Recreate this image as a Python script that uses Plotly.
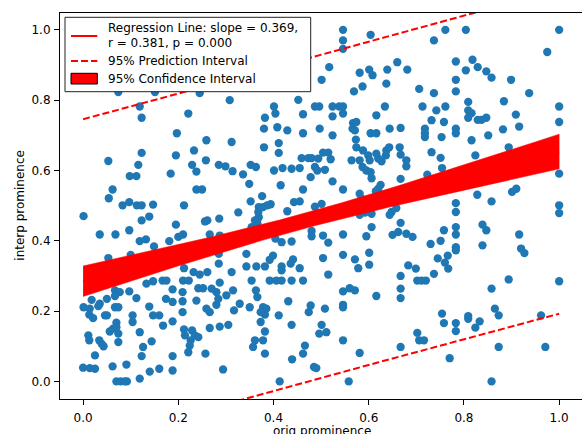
import numpy as np
import plotly.graph_objects as go

# ---- observations -----------------------------------------------------------
orig_prominence = [
    # upper-left
    0.074, 0.151, 0.119, 0.123, 0.197, 0.221, 0.245, 0.308, 0.401, 0.452,
    0.404, 0.382, 0.462, 0.487, 0.380, 0.408, 0.429, 0.462, 0.259, 0.312,
    # upper-middle
    0.546, 0.604, 0.546, 0.546, 0.737, 0.517, 0.501, 0.581, 0.601, 0.608,
    0.639, 0.660, 0.681, 0.637, 0.587, 0.569, 0.706, 0.737, 0.496, 0.524,
    0.538, 0.546, 0.524, 0.546, 0.634, 0.616, 0.713, 0.742, 0.732, 0.497,
    0.524, 0.567, 0.574, 0.566, 0.571, 0.573, 0.604, 0.616, 0.644, 0.667,
    0.718, 0.718, 0.718,
    # upper-right
    0.761, 0.804, 1.000, 0.975, 0.783, 0.818, 0.804, 0.829, 0.847, 0.858,
    0.899, 0.783, 0.783, 0.937, 0.809, 0.884, 0.761, 0.809, 0.816, 0.809,
    0.829, 0.837, 0.847, 0.909, 1.000, 1.000, 0.916, 0.758, 0.783, 0.783,
    0.882, 0.851, 0.753, 0.816,
    # mid-left
    0.053, 0.123, 0.116, 0.195, 0.184, 0.098, 0.112, 0.062, 0.054, 0.083,
    0.097, 0.113, 0.123, 0.147, 0.212, 0.001, 0.139, 0.123, 0.195, 0.035,
    0.068, 0.097, 0.119, 0.132, 0.149, 0.181, 0.200, 0.210, 0.053, 0.100,
    # mid-centre
    0.411, 0.411, 0.380, 0.233, 0.258, 0.229, 0.238, 0.285, 0.299, 0.314,
    0.352, 0.363, 0.336, 0.401, 0.419, 0.438, 0.455, 0.459, 0.473, 0.480,
    0.478, 0.349, 0.415, 0.238, 0.250, 0.462, 0.376, 0.352, 0.326, 0.369,
    0.378, 0.387, 0.394, 0.368, 0.369, 0.429, 0.443, 0.455, 0.487, 0.256,
    0.261, 0.286, 0.361, 0.366, 0.266, 0.287, 0.354, 0.417, 0.438, 0.404,
    0.480, 0.480, 0.343, 0.285, 0.285, 0.399, 0.392, 0.441, 0.436, 0.455,
    0.343, 0.364, 0.382, 0.417,
    # lower-centre
    0.232, 0.245, 0.261, 0.287, 0.312, 0.417, 0.417, 0.438, 0.462, 0.392,
    0.406, 0.354, 0.242, 0.252, 0.270, 0.280, 0.315, 0.301, 0.284, 0.280,
    0.238, 0.363, 0.366, 0.378, 0.385, 0.382, 0.373, 0.350, 0.317, 0.329,
    0.259, 0.266, 0.431, 0.474, 0.478, 0.411, 0.266, 0.287, 0.305, 0.229,
    0.235, 0.242, 0.226, 0.224, 0.221, 0.214, 0.373, 0.382, 0.438, 0.361,
    0.378, 0.357, 0.382, 0.257, 0.466, 0.462, 0.439, 0.294, 0.413, 0.485,
    # mid-right
    0.574, 0.588, 0.599, 0.602, 0.616, 0.620, 0.627, 0.637, 0.643, 0.636,
    0.665, 0.667, 0.679, 0.679, 0.732, 0.494, 0.504, 0.515, 0.520, 0.487,
    0.492, 0.508, 0.564, 0.581, 0.587, 0.595, 0.604, 0.606, 0.625, 0.620,
    0.615, 0.667, 0.723, 0.524, 0.546, 0.581, 0.585, 0.501, 0.581, 0.592,
    0.606, 0.648, 0.658, 0.644, 0.667, 0.606, 0.650, 0.662, 0.679, 0.692,
    0.546, 0.595, 0.504, 0.515, 0.730, 0.751, 0.546, 0.601, 0.504, 0.571,
    0.601, 0.683, 0.699, 0.578, 0.745,
    # lower-right (a)
    0.515, 0.667, 0.667, 0.667, 0.702, 0.711, 0.720, 0.737, 0.546, 0.560,
    0.571, 0.616, 0.546, 0.546, 0.508, 0.501, 0.496, 0.511, 0.702, 0.706,
    0.716, 0.546, 0.667, 0.581, 0.490, 0.558,
    # lower-right (b)
    0.767, 0.894, 1.000, 0.858, 0.754, 0.758, 0.783, 0.783, 0.809, 0.809,
    0.824, 0.833, 0.865, 0.873, 0.962, 0.873, 0.971, 0.770, 0.858,
    # far right, middle band
    0.894, 0.824, 0.751, 0.754, 1.000, 0.901, 0.910, 0.828, 0.858, 0.783,
    0.783, 1.000, 1.000, 0.783, 0.783, 0.758, 0.839, 0.847, 0.916, 0.783,
    0.783, 0.839, 0.920, 0.927, 0.766, 0.760,
    # lower-left
    0.212, 0.133, 0.147, 0.167, 0.175, 0.210, 0.222, 0.067, 0.077, 0.067,
    0.097, 0.112, 0.188, 0.209, 0.174, 0.188, 0.209, 0.018, 0.035, 0.050,
    0.001, 0.014, 0.032, 0.067, 0.074, 0.013, 0.021, 0.046, 0.050, 0.104,
    0.104, 0.139, 0.147, 0.160, 0.188, 0.209, 0.070, 0.070, 0.168, 0.056,
    0.063, 0.074, 0.119, 0.212, 0.011, 0.013, 0.034, 0.039, 0.043, 0.074,
    0.144, 0.126, 0.025, 0.123, 0.188, 0.000, 0.014, 0.025, 0.062, 0.091,
    0.140, 0.160, 0.188, 0.070, 0.079, 0.088, 0.092, 0.119,
]

interp_prominence = [
    # upper-left
    0.823, 0.823, 0.782, 0.750, 0.706, 0.762, 0.820, 0.800, 0.782, 0.801,
    0.762, 0.750, 0.760, 0.782, 0.719, 0.723, 0.714, 0.706, 0.686, 0.681,
    # upper-middle
    1.000, 0.986, 0.970, 0.946, 0.970, 0.894, 0.858, 0.878, 0.887, 0.871,
    0.887, 0.908, 0.887, 0.847, 0.839, 0.825, 0.832, 0.820, 0.782, 0.782,
    0.782, 0.782, 0.754, 0.762, 0.782, 0.757, 0.782, 0.771, 0.743, 0.719,
    0.700, 0.735, 0.738, 0.719, 0.714, 0.688, 0.706, 0.706, 0.719, 0.721,
    0.719, 0.706, 0.695,
    # upper-right
    1.000, 1.000, 1.000, 0.937, 0.910, 0.915, 0.885, 0.894, 0.882, 0.864,
    0.858, 0.858, 0.825, 0.820, 0.795, 0.797, 0.782, 0.771, 0.763, 0.750,
    0.744, 0.744, 0.750, 0.759, 0.782, 0.738, 0.725, 0.738, 0.719, 0.706,
    0.717, 0.700, 0.695, 0.686,
    # mid-left
    0.627, 0.650, 0.616, 0.643, 0.591, 0.584, 0.584, 0.546, 0.521, 0.501,
    0.510, 0.501, 0.501, 0.503, 0.501, 0.470, 0.469, 0.458, 0.446, 0.418,
    0.418, 0.430, 0.399, 0.404, 0.384, 0.399, 0.411, 0.418, 0.351, 0.360,
    # mid-centre
    0.678, 0.650, 0.666, 0.657, 0.629, 0.616, 0.597, 0.616, 0.612, 0.598,
    0.616, 0.610, 0.589, 0.600, 0.607, 0.605, 0.607, 0.635, 0.635, 0.635,
    0.581, 0.562, 0.558, 0.546, 0.546, 0.546, 0.527, 0.512, 0.481, 0.496,
    0.496, 0.501, 0.504, 0.482, 0.467, 0.484, 0.510, 0.512, 0.497, 0.455,
    0.458, 0.463, 0.458, 0.450, 0.418, 0.415, 0.439, 0.396, 0.398, 0.406,
    0.428, 0.413, 0.363, 0.363, 0.335, 0.358, 0.346, 0.347, 0.335, 0.322,
    0.327, 0.327, 0.327, 0.327,
    # lower-centre
    0.311, 0.304, 0.311, 0.281, 0.311, 0.316, 0.287, 0.287, 0.287, 0.287,
    0.287, 0.287, 0.265, 0.265, 0.264, 0.254, 0.259, 0.245, 0.235, 0.218,
    0.230, 0.259, 0.240, 0.211, 0.207, 0.190, 0.197, 0.211, 0.202, 0.221,
    0.207, 0.197, 0.228, 0.197, 0.216, 0.188, 0.152, 0.156, 0.161, 0.145,
    0.131, 0.126, 0.117, 0.102, 0.083, 0.131, 0.169, 0.142, 0.161, 0.117,
    0.117, 0.098, 0.079, 0.079, 0.102, 0.079, 0.063, 0.034, 0.000, 0.041,
    # mid-right
    0.666, 0.657, 0.643, 0.629, 0.648, 0.634, 0.626, 0.657, 0.666, 0.643,
    0.666, 0.645, 0.629, 0.612, 0.652, 0.634, 0.651, 0.651, 0.632, 0.610,
    0.600, 0.602, 0.629, 0.629, 0.610, 0.600, 0.595, 0.578, 0.559, 0.548,
    0.541, 0.576, 0.588, 0.569, 0.546, 0.534, 0.520, 0.505, 0.474, 0.480,
    0.477, 0.482, 0.493, 0.474, 0.451, 0.439, 0.417, 0.425, 0.420, 0.411,
    0.418, 0.413, 0.415, 0.395, 0.391, 0.400, 0.360, 0.366, 0.351, 0.347,
    0.332, 0.330, 0.321, 0.322, 0.350,
    # lower-right (a)
    0.304, 0.300, 0.264, 0.237, 0.287, 0.287, 0.287, 0.306, 0.256, 0.265,
    0.259, 0.243, 0.218, 0.211, 0.207, 0.161, 0.136, 0.140, 0.138, 0.117,
    0.117, 0.117, 0.098, 0.081, 0.038, 0.000,
    # lower-right (b)
    0.321, 0.290, 0.285, 0.264, 0.193, 0.166, 0.166, 0.143, 0.186, 0.178,
    0.153, 0.171, 0.207, 0.188, 0.188, 0.098, 0.098, 0.066, 0.000,
    # far right, middle band
    0.666, 0.643, 0.636, 0.607, 0.591, 0.539, 0.548, 0.531, 0.512, 0.507,
    0.482, 0.501, 0.479, 0.439, 0.418, 0.430, 0.446, 0.430, 0.418, 0.382,
    0.373, 0.387, 0.378, 0.365, 0.358, 0.338,
    # lower-left
    0.322, 0.278, 0.285, 0.287, 0.287, 0.287, 0.287, 0.259, 0.254, 0.243,
    0.256, 0.237, 0.262, 0.254, 0.235, 0.226, 0.228, 0.232, 0.221, 0.235,
    0.211, 0.207, 0.214, 0.211, 0.211, 0.190, 0.180, 0.188, 0.188, 0.188,
    0.169, 0.213, 0.188, 0.188, 0.171, 0.197, 0.167, 0.154, 0.159, 0.142,
    0.150, 0.136, 0.140, 0.148, 0.131, 0.117, 0.117, 0.107, 0.100, 0.112,
    0.114, 0.098, 0.074, 0.072, 0.072, 0.039, 0.038, 0.036, 0.043, 0.048,
    0.028, 0.036, 0.031, 0.000, 0.000, 0.000, 0.000, 0.008,
]

assert len(orig_prominence) == len(interp_prominence)

# ---- regression summary -----------------------------------------------------
SLOPE = 0.369
R_VALUE = 0.381
P_VALUE = 0.000
INTERCEPT = 0.285
RESID_SE = 0.2335      # residual standard error of the fit
T_CRIT = 1.965         # two-sided 95 % t quantile

tick_values = [0.0, 0.2, 0.4, 0.6, 0.8, 1.0]
tick_labels = ["0.0", "0.2", "0.4", "0.6", "0.8", "1.0"]

x = np.asarray(orig_prominence)
n = x.size
x_mean = x.mean()
sxx = ((x - x_mean) ** 2).sum()

xs = np.linspace(x.min(), x.max(), 300)
fit = INTERCEPT + SLOPE * xs
ci_half = T_CRIT * RESID_SE * np.sqrt(1.0 / n + (xs - x_mean) ** 2 / sxx)
pi_half = T_CRIT * RESID_SE * np.sqrt(1.0 + 1.0 / n + (xs - x_mean) ** 2 / sxx)

# ---- page geometry (px) -----------------------------------------------------
FIG_W, FIG_H = 582, 434
M_L, M_R, M_T, M_B = 60, 0, 13, 35
PLOT_W = FIG_W - M_L - M_R
PLOT_H = FIG_H - M_T - M_B


def px(xp):
    return (xp - M_L) / PLOT_W


def py(yp):
    return 1 - (yp - M_T) / PLOT_H


FONT = "DejaVu Sans"
FS = 12
RED = "#ff0000"
BLUE = "#1f77b4"
DASH = "7px,3px"

fig = go.Figure()

fig.add_trace(go.Scatter(
    x=orig_prominence, y=interp_prominence, mode="markers",
    marker=dict(size=8.3, color=BLUE, line=dict(width=0)),
    showlegend=False, hoverinfo="skip",
))

fig.add_trace(go.Scatter(
    x=xs, y=fit, mode="lines", line=dict(color=RED, width=2),
    showlegend=False, hoverinfo="skip",
))

fig.add_trace(go.Scatter(
    x=np.concatenate([xs, xs[::-1]]),
    y=np.concatenate([fit + ci_half, (fit - ci_half)[::-1]]),
    mode="lines", fill="toself", fillcolor=RED,
    line=dict(color=RED, width=0.5),
    showlegend=False, hoverinfo="skip",
))

for sign in (1, -1):
    fig.add_trace(go.Scatter(
        x=xs, y=fit + sign * pi_half, mode="lines",
        line=dict(color=RED, width=2, dash=DASH),
        showlegend=False, hoverinfo="skip",
    ))

axis_common = dict(
    showline=True, linecolor="black", linewidth=1.1,
    ticks="outside", ticklen=5, tickwidth=1.1, tickcolor="black",
    showgrid=False, zeroline=False,
    tickvals=tick_values, ticktext=tick_labels,
    tickfont=dict(family=FONT, size=FS, color="black"),
)

fig.update_xaxes(range=[-0.0485, 1.048], mirror=True,
                 ticklabelstandoff=3, **axis_common)
fig.update_yaxes(range=[-0.05, 1.048], mirror=False,
                 ticklabelstandoff=1, **axis_common)

# ---- legend box -------------------------------------------------------------
shapes = []
lx0, lx1, ly0, ly1 = 65, 310.7, 17.3, 91.7
shapes.append(dict(
    type="rect", xref="paper", yref="paper",
    x0=px(lx0), x1=px(lx1), y0=py(ly1), y1=py(ly0),
    line=dict(color="#222222", width=1), fillcolor="white", layer="above",
))
hx0, hx1 = 71, 97.3
shapes.append(dict(
    type="line", xref="paper", yref="paper",
    x0=px(hx0), x1=px(hx1), y0=py(36), y1=py(36),
    line=dict(color=RED, width=2), layer="above",
))
shapes.append(dict(
    type="line", xref="paper", yref="paper",
    x0=px(hx0), x1=px(hx1), y0=py(61), y1=py(61),
    line=dict(color=RED, width=2, dash=DASH), layer="above",
))
shapes.append(dict(
    type="rect", xref="paper", yref="paper",
    x0=px(hx0), x1=px(hx1), y0=py(84), y1=py(73.3),
    line=dict(color="black", width=1), fillcolor=RED, layer="above",
))

annotations = []
legend_rows = [
    (28.3, f"Regression Line: slope = {SLOPE:.3f},"),
    (42.7, f"r = {R_VALUE:.3f}, p = {P_VALUE:.3f}"),
    (61.0, "95% Prediction Interval"),
    (79.3, "95% Confidence Interval"),
]
for yc, text in legend_rows:
    annotations.append(dict(
        xref="paper", yref="paper", x=px(105.5), y=py(yc),
        xanchor="left", yanchor="middle", showarrow=False, text=text,
        font=dict(family=FONT, size=FS, color="black"),
    ))

# axis titles
annotations.append(dict(
    xref="paper", yref="paper", x=px(321.7), y=py(430.5),
    xanchor="center", yanchor="middle", showarrow=False,
    text="orig prominence", font=dict(family=FONT, size=FS, color="black"),
))
annotations.append(dict(
    xref="paper", yref="paper", x=px(20), y=py(205.7),
    xanchor="center", yanchor="middle", showarrow=False, textangle=-90,
    text="interp prominence", font=dict(family=FONT, size=FS, color="black"),
))

fig.update_layout(
    width=FIG_W, height=FIG_H,
    margin=dict(l=M_L, r=M_R, t=M_T, b=M_B, pad=0),
    paper_bgcolor="white", plot_bgcolor="white",
    showlegend=False, shapes=shapes, annotations=annotations,
    font=dict(family=FONT, size=FS, color="black"),
)

fig.write_html("out.html")
